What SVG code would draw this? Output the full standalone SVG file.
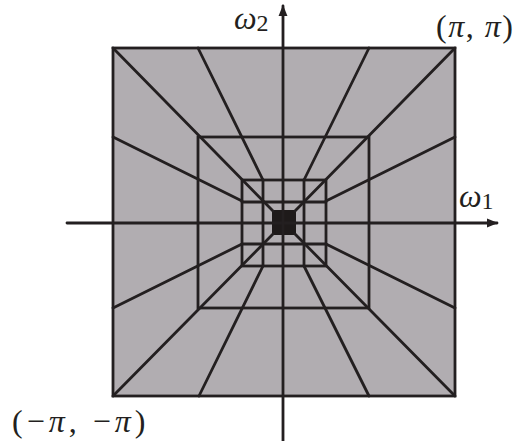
<svg xmlns="http://www.w3.org/2000/svg" width="518" height="441" viewBox="0 0 518 441">
<style>
.ln{stroke:#231f20;stroke-width:2.8;fill:none;stroke-linecap:round}
.sq{stroke:#231f20;stroke-width:2.8;fill:none}
.t{font-family:"Liberation Serif","DejaVu Serif",serif;fill:#231f20}
.i{font-style:italic}
</style>
<defs>
<marker id="ah" viewBox="0 0 10 10" refX="9" refY="5" markerWidth="4" markerHeight="4" orient="auto" markerUnits="strokeWidth">
<path d="M0,1 L10,5 L0,9 Z" fill="#231f20"/>
</marker>
</defs>
<rect width="518" height="441" fill="#ffffff"/>
<g id="plane">
<rect x="113" y="48" width="342" height="348" style="fill:#b1adb1;stroke:#231f20;stroke-width:2.8"/>
</g>
<g id="rings">
<rect class="sq" x="198" y="137" width="171" height="171"/>
<rect class="sq" x="242" y="180" width="84" height="86"/>
<line class="ln" x1="263" y1="180" x2="263" y2="266"/>
<line class="ln" x1="304" y1="180" x2="304" y2="266"/>
<line class="ln" x1="242" y1="202" x2="326" y2="202"/>
<line class="ln" x1="242" y1="244" x2="326" y2="244"/>
<rect x="272" y="210" width="24" height="25" fill="#1e1a1a"/>
</g>
<g id="connectors">
<line class="ln" x1="113" y1="48" x2="273" y2="211"/>
<line class="ln" x1="455" y1="48" x2="295" y2="211"/>
<line class="ln" x1="113" y1="396" x2="273" y2="234"/>
<line class="ln" x1="455" y1="396" x2="295" y2="234"/>
<line class="ln" x1="198" y1="48" x2="263" y2="180"/>
<line class="ln" x1="369" y1="48" x2="304" y2="180"/>
<line class="ln" x1="199" y1="396" x2="263" y2="266"/>
<line class="ln" x1="369" y1="396" x2="304" y2="266"/>
<line class="ln" x1="113" y1="137" x2="242" y2="201"/>
<line class="ln" x1="113" y1="308" x2="242" y2="244"/>
<line class="ln" x1="455" y1="137" x2="326" y2="201"/>
<line class="ln" x1="455" y1="308" x2="326" y2="244"/>
<line class="ln" x1="67" y1="223" x2="497" y2="223" marker-end="url(#ah)"/>
<line class="ln" x1="283" y1="441" x2="283" y2="6" marker-end="url(#ah)"/>
</g>
<g id="labels">
<text class="t" x="234" y="29" font-size="32"><tspan class="i">ω</tspan><tspan font-size="24" dy="2">2</tspan></text>
<text class="t" x="459" y="207" font-size="32"><tspan class="i">ω</tspan><tspan font-size="24" dy="2">1</tspan></text>
<text class="t" x="436" y="37" font-size="32" letter-spacing="1.5">(<tspan class="i">π</tspan>, <tspan class="i">π</tspan>)</text>
<text class="t" x="12" y="432" font-size="32" letter-spacing="4">(−<tspan class="i">π</tspan>, −<tspan class="i">π</tspan>)</text>
</g>
</svg>
